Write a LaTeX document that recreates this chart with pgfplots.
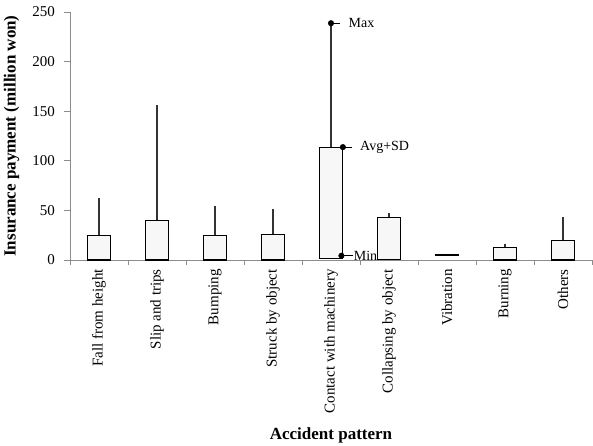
\documentclass[border=0pt]{standalone}
\usepackage{pgfplots}
\pgfplotsset{compat=1.18}
\usepgfplotslibrary{statistics}
\usepackage{fontspec}
\setmainfont{Liberation Serif}
\definecolor{axgray}{HTML}{8C8C8C}
\definecolor{boxfill}{HTML}{F7F7F7}
\begin{document}
\begin{tikzpicture}[x=1pt,y=1pt]
\path[use as bounding box] (-70,-185) rectangle (523,260);
\begin{axis}[
  at={(0,0)}, anchor=south west, scale only axis,
  width=522pt, height=248pt,
  xmin=-0.5, xmax=8.5, ymin=0, ymax=250,
  axis x line*=bottom, axis y line*=left,
  axis line style={draw=axgray, line width=0.8pt},
  xtick={0,...,8},
  xticklabels={Fall from height,Slip and trips,Bumping,Struck by object,Contact with machinery,Collapsing by object,Vibration,Burning,Others},
  major x tick style={draw=none},
  minor xtick={-0.5,0.5,...,8.5},
  minor x tick style={draw=axgray, line width=0.8pt},
  minor tick length=5pt,
  ytick={0,50,...,250},
  major y tick style={draw=axgray, line width=0.8pt},
  major tick length=6pt,
  tick align=outside,
  /pgf/number format/assume math mode=true,
  x tick label style={rotate=90, anchor=east, inner sep=0pt, font=\fontsize{15}{17}\selectfont},
  xticklabel shift=3pt,
  y tick label style={inner sep=0pt, font=\fontsize{15}{17}\selectfont},
  yticklabel shift=9pt,
  every axis y label/.style={at={(axis description cs:-0.112,0.5)}, rotate=90, anchor=center, font=\fontsize{17}{19}\selectfont\bfseries},
  every axis x label/.style={at={(axis description cs:0.5,0)}, yshift=-175pt, anchor=center, font=\fontsize{17}{19}\selectfont\bfseries},
  ylabel={Insurance payment (million won)},
  xlabel={Accident pattern},
  boxplot/draw direction=y,
  boxplot/box extend=0.41,
  boxplot/whisker extend=0,
  boxplot/every box/.style={draw=black, fill=boxfill, line width=1.1pt},
  boxplot/every whisker/.style={draw=black!80, line width=1.3pt},
  boxplot/every median/.style={draw=black, line width=1.1pt},
  clip=false,
]
\addplot[boxplot prepared={draw position=0, lower whisker=0, lower quartile=0, median=0, upper quartile=24.5, upper whisker=63}] coordinates {};
\addplot[boxplot prepared={draw position=1, lower whisker=0, lower quartile=0, median=0, upper quartile=39.6, upper whisker=155.8}] coordinates {};
\addplot[boxplot prepared={draw position=2, lower whisker=0, lower quartile=0, median=0, upper quartile=24.9, upper whisker=54.4}] coordinates {};
\addplot[boxplot prepared={draw position=3, lower whisker=0, lower quartile=0, median=0, upper quartile=25.5, upper whisker=51.7}] coordinates {};
\addplot[boxplot prepared={draw position=4, lower whisker=1.5, lower quartile=1.5, median=1.5, upper quartile=113.8, upper whisker=238.7}] coordinates {};
\addplot[boxplot prepared={draw position=5, lower whisker=0.5, lower quartile=0.5, median=0.5, upper quartile=43.3, upper whisker=47.3}] coordinates {};
\addplot[boxplot prepared={draw position=6, lower whisker=4.6, lower quartile=4.6, median=4.6, upper quartile=5.4, upper whisker=5.4}] coordinates {};
\addplot[boxplot prepared={draw position=7, lower whisker=0, lower quartile=0, median=0, upper quartile=12.8, upper whisker=15.8}] coordinates {};
\addplot[boxplot prepared={draw position=8, lower whisker=0, lower quartile=0, median=0, upper quartile=20, upper whisker=43.6}] coordinates {};
% annotation markers
\addplot[black, line width=0.8pt] coordinates {(4,238.7) (4.16,238.7)};
\addplot[black, line width=0.8pt] coordinates {(4.2,113.8) (4.36,113.8)};
\addplot[black, line width=0.8pt] coordinates {(4.18,4.3) (4.38,4.3)};
\addplot[only marks, mark=*, mark size=2.8pt, black] coordinates {(4,238.7) (4.205,113.8) (4.18,4.3)};
\node[anchor=west, inner sep=0pt, font=\fontsize{14}{16}\selectfont] at (axis cs:4.3,238.7) {Max};
\node[anchor=west, inner sep=0pt, font=\fontsize{14}{16}\selectfont] at (axis cs:4.5,113.8) {Avg+SD};
\node[anchor=west, inner sep=0pt, font=\fontsize{14}{16}\selectfont] at (axis cs:4.39,4.3) {Min};
\end{axis}
\end{tikzpicture}
\end{document}
